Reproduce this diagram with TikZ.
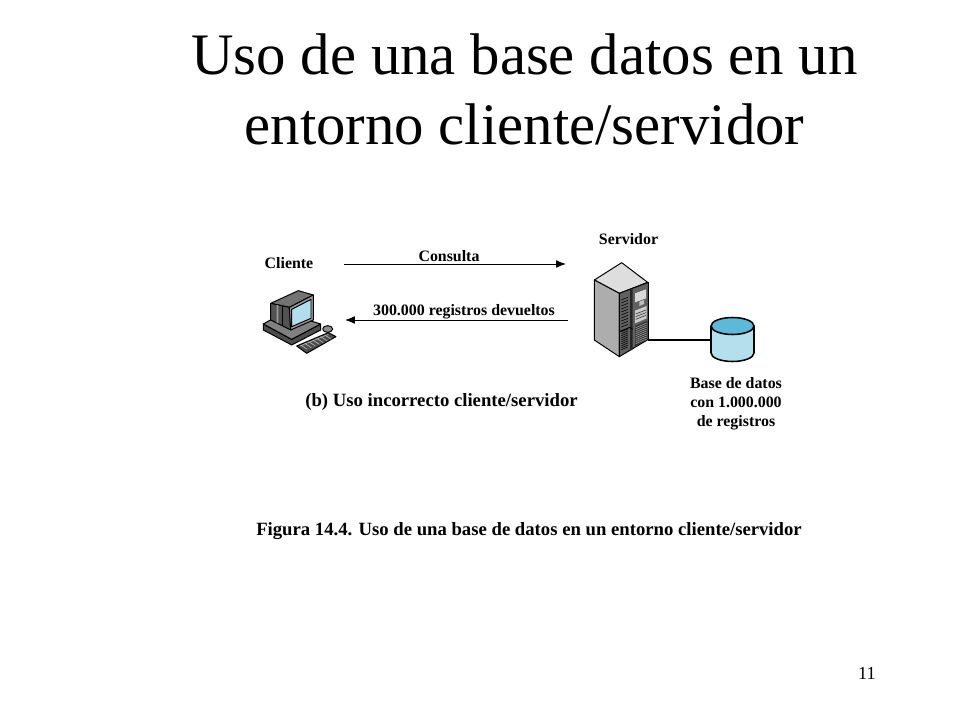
\documentclass[tikz,border=0pt]{standalone}
\usepackage{fontspec}
\usetikzlibrary{arrows.meta}
\setmainfont{Liberation Serif}
\definecolor{screenblue}{RGB}{176,222,236}
\definecolor{dbtop}{RGB}{92,186,216}
\definecolor{dbside}{RGB}{180,224,238}
\tikzset{
  titlelabel/.style={font=\fontsize{41.8}{42}\selectfont,inner sep=0pt,anchor=center},
  smalllabel/.style={font=\fontsize{11.3}{13.5}\selectfont\bfseries,inner sep=0pt,align=center},
  biglabel/.style={font=\fontsize{13.3}{16}\selectfont\bfseries,inner sep=0pt},
  cabinet/.style={draw=black,line width=0.7pt,line join=round},
  flowarrow/.style={-{Latex[length=7pt,width=5.5pt]},line width=0.7pt},
}
\begin{document}
\begin{tikzpicture}[x=0.025cm,y=-0.025cm]
    \useasboundingbox (0,0) rectangle (960,720);
    \fill[white] (0,0) rectangle (960,720);

    \node[titlelabel] (TitleOne) at (524.5,54) {Uso de una base datos en un};
    \node[titlelabel] (TitleTwo) at (524.5,124) {entorno cliente/servidor};

    \node[smalllabel] (Cliente)  at (289,263) {Cliente};
    \node[smalllabel] (Servidor) at (628.5,239) {Servidor};
    \node[smalllabel] (Consulta) at (449,256) {Consulta};
    \node[smalllabel] (Devueltos) at (464,312) {300.000 registros devueltos};
    \node[biglabel] (Incorrecto) at (441.5,402) {(b) Uso incorrecto cliente/servidor};
    \node[smalllabel] (Base) at (736,404) {Base de datos\\con 1.000.000\\de registros};
    \node[biglabel] (Figura) at (529,531) {Figura 14.4. Uso de una base de datos en un entorno cliente/servidor};
    \node[font=\fontsize{13}{14}\selectfont,inner sep=0pt] (Page) at (867,673) {11};

    % arrows
    \coordinate (ConsultaA) at (344,264);
    \coordinate (ConsultaB) at (566,264);
    \coordinate (DevueltosA) at (568,320);
    \coordinate (DevueltosB) at (345,320);
    \draw[flowarrow] (ConsultaA) -- (ConsultaB);
    \draw[flowarrow] (DevueltosA) -- (DevueltosB);

    % server
    \coordinate (ServerOut) at (648,340);
    \coordinate (DbIn) at (711,340);
    \draw[line width=1.3pt] (ServerOut) -- (DbIn);
    \begin{scope}[shift={(580,250)},scale=1/3]
      \fill[cabinet,fill=black!13] (43,90) -- (125,38) -- (203,97) -- (118,130) -- cycle;
      \fill[cabinet,fill=black!32] (43,90) -- (118,130) -- (118,320) -- (43,270) -- cycle;
      \fill[cabinet,fill=black!62] (118,130) -- (205,97) -- (205,268) -- (118,320) -- cycle;
      \fill[black!85] (150,120) -- (158,117) -- (158,298) -- (150,303) -- cycle;
      \fill[black!15] (165,130) -- (198,118) -- (198,145) -- (165,157) -- cycle;
      \fill[black!25] (178,155) -- (192,150) -- (192,162) -- (178,168) -- cycle;
      \fill[black!20] (165,182) -- (200,168) -- (200,205) -- (165,220) -- cycle;
      \fill[black!80] (165,228) -- (202,212) -- (202,266) -- (165,290) -- cycle;
      \foreach \y in {0,1,...,9}{
        \draw[black,line width=0.4pt] (124,{150+9*\y}) -- (144,{142+9*\y});
        \draw[black,line width=0.4pt] (124,{245+6*\y}) -- (144,{237+6*\y});
      }
      \foreach \y in {0,1,...,8}{
        \draw[black!25,line width=0.3pt] (167,{233+6*\y}) -- (200,{219+6*\y});
      }
      \foreach \y in {0,1,2}{
        \draw[black!75,line width=0.5pt] (167,{192+8*\y}) -- (198,{180+8*\y});
      }
      \draw[black,line width=0.7pt] (118,245) -- (150,232) -- (158,238);
    \end{scope}

    % database
    \fill[draw=black,line width=1.1pt,fill=dbside] (711,326) -- (711,353) arc[start angle=180,end angle=0,x radius=21.5,y radius=8.5] -- (754,326);
    \fill[draw=black,line width=1.1pt,fill=dbtop] (732.5,326) ellipse[x radius=21.5,y radius=8.5];

    % computer
    \begin{scope}[shift={(250,220)},scale=1/3]
      % feet and base
      \fill[cabinet,fill=black!70] (40,312) -- (40,330) -- (125,375) -- (212,330) -- (212,312) -- (125,358) -- cycle;
      \fill[cabinet,fill=black!50] (40,312) -- (100,278) -- (212,312) -- (125,358) -- cycle;
      % monitor
      \fill[cabinet,fill=black!55] (62,250) -- (145,212) -- (190,225) -- (118,262) -- cycle;
      \fill[cabinet,fill=black!68] (62,250) -- (118,262) -- (122,330) -- (62,300) -- cycle;
      \fill[black!40] (80,255) -- (85,256) -- (85,310) -- (80,308) -- cycle;
      \draw[black,line width=0.5pt] (98,258) -- (98,318);
      \fill[cabinet,fill=black!40] (118,262) -- (190,225) -- (190,300) -- (122,330) -- cycle;
      \fill[cabinet,fill=screenblue] (125,268) -- (183,238) -- (183,295) -- (125,320) -- cycle;
      % keyboard
      \fill[cabinet,fill=black!70] (140,378) -- (235,338) -- (258,350) -- (170,400) -- cycle;
      \foreach \x in {0,1,...,6}{
        \draw[black!25,line width=0.4pt] ({152+12*\x},{375-5*\x}) -- ({172+12*\x},{388-5*\x});
      }
      \draw[black!25,line width=0.4pt] (150,378) -- (235,343);
      % mouse
      \fill[cabinet,fill=black!45] (233,327) ellipse[x radius=15,y radius=10];
    \end{scope}
\end{tikzpicture}
\end{document}
